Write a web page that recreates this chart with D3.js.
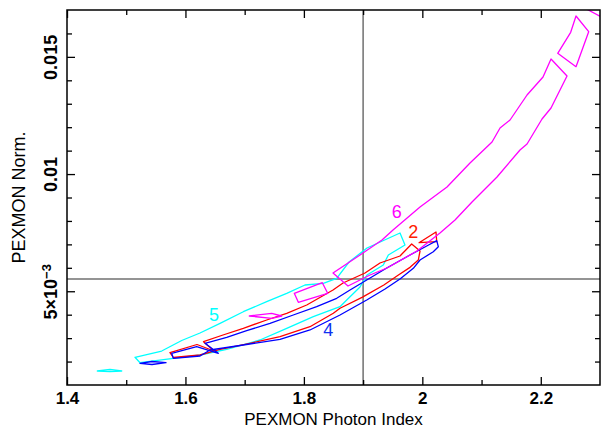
<!DOCTYPE html>
<html>
<head>
<meta charset="utf-8">
<script src="https://cdn.jsdelivr.net/npm/d3@7"></script>
<style>
  body { margin: 0; background: #fff; }
  svg { display: block; }
</style>
</head>
<body>
<svg id="chart" width="603" height="430"></svg>
<script>
// ---- data ----
const xTicks = [1.4, 1.6, 1.8, 2, 2.2];
const xMinorTicks = [1.5, 1.7, 1.9, 2.1];
const yTicks = [0.005, 0.01, 0.015];
const yMinorTicks = [0.002, 0.003, 0.004, 0.006, 0.007, 0.008, 0.009, 0.011, 0.012, 0.013, 0.014, 0.016];
const yTickLabels = ["5×10", "0.01", "0.015"];
const xTitle = "PEXMON Photon Index";
const yTitle = "PEXMON Norm.";
const bestFit = [1.9, 0.00552];

// contour level 5 (cyan)
const contour5 = [
  [1.5148,0.002182],[1.5599,0.002450],[1.5937,0.002899],[1.6246,0.003219],[1.6584,0.003632],
  [1.6977,0.004127],[1.7372,0.004554],[1.7710,0.004912],[1.8019,0.005267],[1.8328,0.005339],
  [1.8554,0.005552],[1.8762,0.006248],[1.9066,0.006845],[1.9623,0.007485],[1.9707,0.006973],
  [1.9426,0.006547],[1.9341,0.006120],[1.9066,0.005693],[1.8948,0.005181],[1.8723,0.004627],
  [1.8610,0.004341],[1.8159,0.003914],[1.7710,0.003419],[1.7259,0.002920],[1.6697,0.002523],
  [1.6246,0.002280],[1.5795,0.002139],[1.5233,0.001952]
];
const contour5b = [[1.4512,0.001598],[1.4726,0.001661],[1.4924,0.001598],[1.4726,0.001570]];

// contour level 2 (red)
const contour2 = [
  [1.5739,0.002386],[1.6195,0.002728],[1.6482,0.002450],[1.6305,0.002848],[1.6634,0.003133],
  [1.6977,0.003419],[1.7372,0.003773],[1.7710,0.004059],[1.8048,0.004413],[1.8492,0.005053],
  [1.8661,0.005352],[1.9032,0.005779],[1.9285,0.006205],[1.9623,0.006504],[1.9820,0.007016],
  [1.9961,0.006717],[1.9932,0.006333],[1.9792,0.006020],[1.9590,0.005680],[1.9350,0.005267],
  [1.8990,0.004750],[1.8610,0.004273],[1.8497,0.004059],[1.8103,0.003487],[1.7597,0.003061],
  [1.7090,0.002779],[1.6584,0.002523],[1.6246,0.002280],[1.5795,0.002173]
];
const contour2b = [[1.9944,0.007071],[2.0231,0.007528],[2.0243,0.007114]];

// contour level 4 (blue)
const contour4 = [
  [1.5768,0.002352],[1.6190,0.002634],[1.6555,0.002352],[1.6330,0.002779],[1.6697,0.003035],
  [1.7034,0.003317],[1.7428,0.003632],[1.7821,0.003987],[1.8216,0.004341],[1.8554,0.004699],
  [1.8779,0.005053],[1.9061,0.005480],[1.9399,0.005992],[1.9792,0.006547],[2.0074,0.006931],
  [2.0243,0.007157],[2.0270,0.006901],[2.0185,0.006687],[1.9961,0.006333],[1.9848,0.005979],
  [1.9623,0.005523],[1.9370,0.005096],[1.9061,0.004627],[1.8610,0.003987],[1.8103,0.003347],
  [1.7597,0.002950],[1.6977,0.002707],[1.6415,0.002493],[1.6246,0.002237],[1.5795,0.002139]
];
const contour4b = [[1.5233,0.001927],[1.5435,0.002003],[1.5672,0.001952],[1.5435,0.001875]];

// contour level 6 (magenta)
const contour6 = [
  [1.8492,0.005779],[1.8948,0.006547],[1.9319,0.007187],[1.9505,0.007613],[1.9961,0.008595],
  [2.0417,0.009448],[2.0805,0.010472],[2.1177,0.011368],[2.1312,0.011965],[2.1481,0.012307],
  [2.1768,0.013373],[2.2038,0.014141],[2.2173,0.014909],[2.2443,0.014184],[2.2173,0.012819],
  [2.2021,0.012349],[2.1768,0.011283],[2.1649,0.011027],[2.1261,0.009875],[2.0839,0.008808],
  [2.0552,0.008040],[2.0298,0.007485],[1.9910,0.006717],[1.9404,0.005992],[1.9117,0.005693],
  [1.8745,0.005224]
];
const contour6b = [[1.7838,0.004912],[1.8311,0.005365],[1.8402,0.004912],[1.7906,0.004529]];
const contour6c = [[1.7078,0.003944],[1.7457,0.004059],[1.7625,0.003944],[1.7457,0.003846]];
const contour6d = [[2.2286,0.015153],[2.2505,0.016049],[2.2595,0.016744],[2.2809,0.016074],[2.2595,0.014581]];
const contour6e = [[2.2786,0.01702],[2.31,0.01660]];

const contourLabels = [
  {text: "6", x: 1.9567, y: 0.008394, color: "#ff00ff"},
  {text: "2", x: 1.9848, y: 0.007541, color: "#ff2000"},
  {text: "5", x: 1.6482, y: 0.003987, color: "#00ffff"},
  {text: "4", x: 1.8413, y: 0.003376, color: "#1030f0"}
];

// ---- drawing ----
const svg = d3.select("#chart");
const L = 67, R = 600, T = 10, B = 385;
const x = d3.scaleLinear().domain([1.4, 2.3]).range([L, R]);
const y = d3.scaleLinear().domain([0.001, 0.017]).range([B, T]);
const font = "'Liberation Sans', Arial, Helvetica, sans-serif";

svg.append("defs").append("clipPath").attr("id", "clip")
  .append("rect").attr("x", L).attr("y", T).attr("width", R - L).attr("height", B - T);

const plot = svg.append("g").attr("clip-path", "url(#clip)");

// best-fit crosshair
plot.append("line").attr("x1", x(bestFit[0])).attr("x2", x(bestFit[0]))
  .attr("y1", T).attr("y2", B).attr("stroke", "#707070").attr("stroke-width", 1.5);
plot.append("line").attr("x1", L).attr("x2", R)
  .attr("y1", y(bestFit[1])).attr("y2", y(bestFit[1])).attr("stroke", "#707070").attr("stroke-width", 1.5);

const closed = d3.line().x(d => x(d[0])).y(d => y(d[1])).curve(d3.curveLinearClosed);
const open = d3.line().x(d => x(d[0])).y(d => y(d[1]));

const shapes = [
  [contour5, "#00ffff", true], [contour5b, "#00ffff", true],
  [contour2, "#ff0000", true], [contour2b, "#ff0000", true],
  [contour4, "#0000ff", true], [contour4b, "#0000ff", true],
  [contour6, "#ff00ff", true], [contour6b, "#ff00ff", true], [contour6c, "#ff00ff", true],
  [contour6d, "#ff00ff", true], [contour6e, "#ff00ff", false]
];
shapes.forEach(([pts, col, isClosed]) => {
  plot.append("path").attr("d", (isClosed ? closed : open)(pts))
    .attr("fill", "none").attr("stroke", col).attr("stroke-width", 1.3)
    .attr("stroke-linejoin", "round");
});

// contour labels
svg.selectAll("text.clabel").data(contourLabels).enter().append("text")
  .attr("class", "clabel")
  .attr("x", d => x(d.x)).attr("y", d => y(d.y))
  .attr("dy", "0.36em").attr("text-anchor", "middle")
  .attr("fill", d => d.color)
  .style("font-family", font).style("font-size", "18px")
  .text(d => d.text);

// axes (ticks pointing inward)
function styleAxis(g) {
  g.select(".domain").remove();
  g.selectAll(".tick line").attr("stroke", "#000").attr("stroke-width", 1.3);
}
svg.append("g").attr("transform", `translate(0,${B})`)
  .call(d3.axisBottom(x).tickValues(xTicks).tickSize(-8).tickPadding(7).tickFormat(d3.format("~g")))
  .call(styleAxis)
  .call(g => g.selectAll("text").attr("fill", "#000")
    .style("font-family", font).style("font-size", "17px").style("font-weight", "bold"));
svg.append("g").attr("transform", `translate(0,${B})`)
  .call(d3.axisBottom(x).tickValues(xMinorTicks).tickSize(-5).tickFormat(""))
  .call(styleAxis);
svg.append("g").attr("transform", `translate(0,${T})`)
  .call(d3.axisTop(x).tickValues(xTicks).tickSize(-8).tickFormat(""))
  .call(styleAxis);
svg.append("g").attr("transform", `translate(0,${T})`)
  .call(d3.axisTop(x).tickValues(xMinorTicks).tickSize(-5).tickFormat(""))
  .call(styleAxis);

const yAxisG = svg.append("g").attr("transform", `translate(${L},0)`)
  .call(d3.axisLeft(y).tickValues(yTicks).tickSize(-8).tickFormat(""))
  .call(styleAxis);
yAxisG.selectAll(".tick").append("text")
  .attr("transform", "rotate(-90)")
  .attr("x", 0).attr("y", -10)
  .attr("text-anchor", "middle").attr("fill", "#000")
  .style("font-family", font).style("font-size", "18px").style("font-weight", "bold")
  .each(function(d, i) {
    const t = d3.select(this);
    t.append("tspan").text(yTickLabels[i]);
    if (i === 0) {
      t.append("tspan").attr("dy", "-0.45em").style("font-size", "13px").text("−3");
    }
  });
svg.append("g").attr("transform", `translate(${L},0)`)
  .call(d3.axisLeft(y).tickValues(yMinorTicks).tickSize(-5).tickFormat(""))
  .call(styleAxis);
svg.append("g").attr("transform", `translate(${R},0)`)
  .call(d3.axisRight(y).tickValues(yTicks).tickSize(-8).tickFormat(""))
  .call(styleAxis);
svg.append("g").attr("transform", `translate(${R},0)`)
  .call(d3.axisRight(y).tickValues(yMinorTicks).tickSize(-5).tickFormat(""))
  .call(styleAxis);

// frame
svg.append("rect").attr("x", L).attr("y", T).attr("width", R - L).attr("height", B - T)
  .attr("fill", "none").attr("stroke", "#000").attr("stroke-width", 1.5);

// titles
svg.append("text").attr("x", (L + R) / 2).attr("y", 425).attr("text-anchor", "middle")
  .style("font-family", font).style("font-size", "17px").attr("fill", "#000").text(xTitle);
svg.append("text").attr("transform", `translate(25,${(T + B) / 2}) rotate(-90)`)
  .attr("text-anchor", "middle")
  .style("font-family", font).style("font-size", "18px").attr("fill", "#000").text(yTitle);
</script>
</body>
</html>
